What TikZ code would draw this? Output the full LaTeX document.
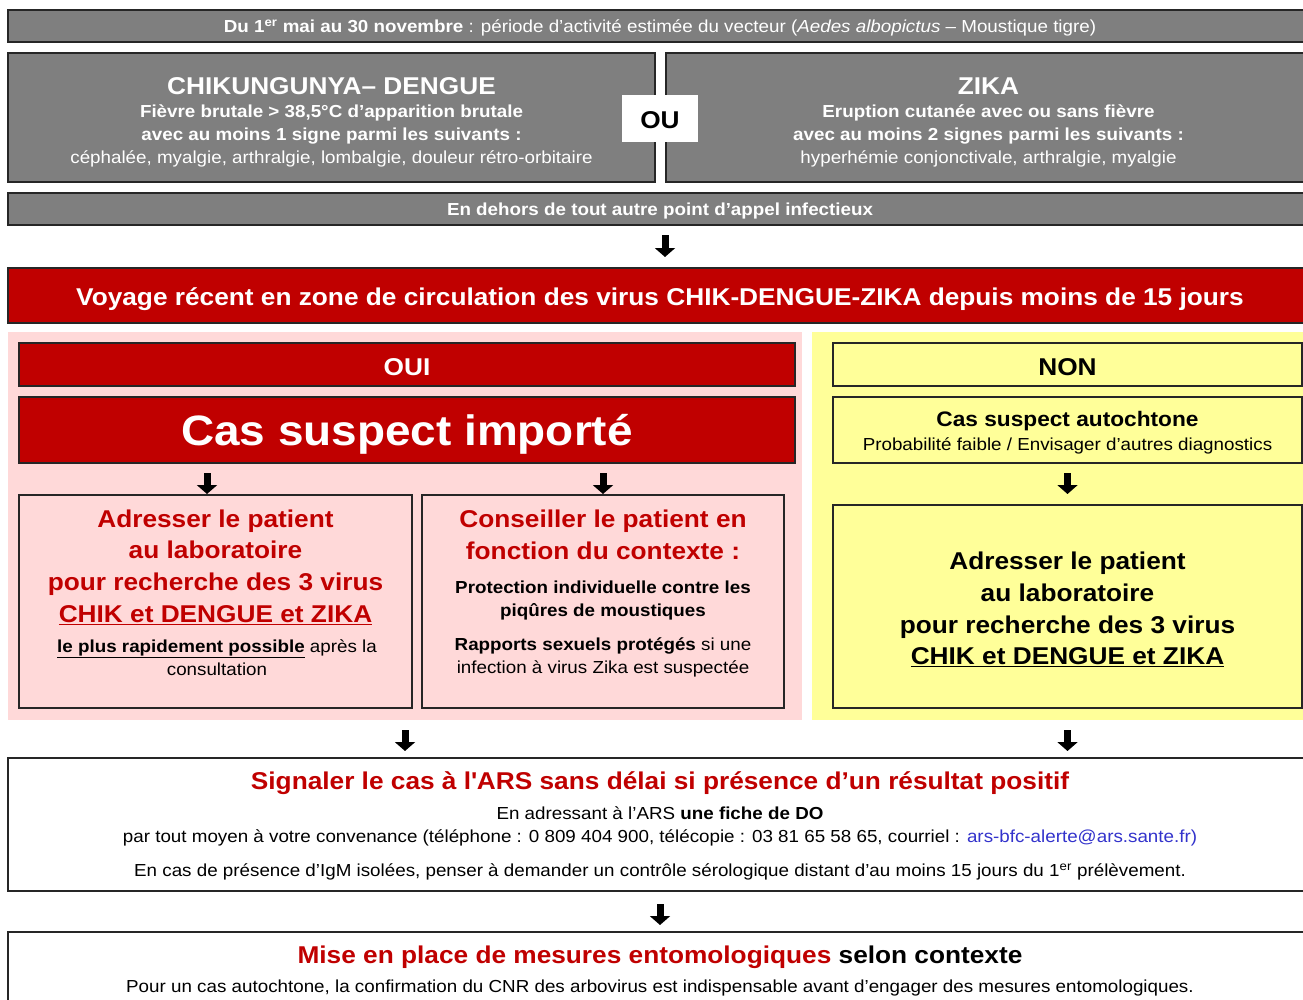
\documentclass[tikz,border=0pt]{standalone}
\usepackage{fontspec}
\setmainfont[FakeStretch=1.08]{Liberation Sans}
\usetikzlibrary{positioning,arrows.meta}

\definecolor{grisfond}{RGB}{127,127,127}
\definecolor{rougefond}{RGB}{192,0,0}
\definecolor{rosefond}{RGB}{255,217,217}
\definecolor{jaunefond}{RGB}{255,255,153}
\definecolor{lien}{RGB}{51,51,204}

\newcommand{\petit}{\fontsize{17.4}{23}\selectfont}
\newcommand{\moyen}{\fontsize{21}{25}\selectfont}
\newcommand{\grand}{\fontsize{24.3}{31.7}\selectfont}
\newcommand{\enorme}{\fontsize{42.5}{48}\selectfont}

\tikzset{
  cadre/.style={draw=black!85, line width=1.2pt, inner sep=0pt, outer sep=0pt},
  boitegrise/.style={cadre, fill=grisfond},
  boiterouge/.style={cadre, fill=rougefond},
  boiterose/.style={cadre, fill=rosefond},
  boitejaune/.style={cadre, fill=jaunefond},
  zone/.style={inner sep=0pt, outer sep=0pt},
  texte/.style={inner sep=0pt, align=center},
  fleche/.style={line width=7pt, -{Triangle[length=9pt,width=20pt]}},
}

\begin{document}
\begin{tikzpicture}[x=1pt,y=-1pt]
\useasboundingbox (0,0) rectangle (1303,999);
\clip (0,0) rectangle (1303,999);

% criteres cliniques
\node[boitegrise, minimum width=1304pt, minimum height=32pt] (periode) at (660,26) {};
\node[texte, text=white, font=\petit] (periodetexte) at (660,28)
  {\textbf{Du 1\textsuperscript{er} mai au 30 novembre} : période d’activité estimée du vecteur (\textit{Aedes albopictus} – Moustique tigre)};

\node[boitegrise, minimum width=647pt, minimum height=129pt] (chik) at (331.5,117.5) {};
\node[texte, text=white, font=\grand\bfseries] (chiktitre) at (331.5,86) {CHIKUNGUNYA– DENGUE};
\node[texte, text=white, font=\petit] (chiksignes) at (331.5,136)
  {\textbf{Fièvre brutale > 38,5°C d’apparition brutale}\\
   \textbf{avec au moins 1 signe parmi les suivants :}\\
   céphalée, myalgie, arthralgie, lombalgie, douleur rétro-orbitaire};

\node[boitegrise, minimum width=646pt, minimum height=129pt] (zika) at (989,117.5) {};
\node[texte, text=white, font=\grand\bfseries] (zikatitre) at (988.5,86) {ZIKA};
\node[texte, text=white, font=\petit] (zikasignes) at (988.5,136)
  {\textbf{Eruption cutanée avec ou sans fièvre}\\
   \textbf{avec au moins 2 signes parmi les suivants :}\\
   hyperhémie conjonctivale, arthralgie, myalgie};

\node[zone, fill=white, minimum width=76pt, minimum height=47pt] (ou) at (660,118.5) {};
\node[texte, font=\grand\bfseries] (outexte) at (660,120.5) {OU};

\node[boitegrise, minimum width=1304pt, minimum height=32pt] (dehors) at (660,209) {};
\node[texte, text=white, font=\petit\bfseries] (dehorstexte) at (660,211)
  {En dehors de tout autre point d’appel infectieux};

\node[boiterouge, minimum width=1304pt, minimum height=55pt] (voyage) at (660,295.5) {};
\node[texte, text=white, font=\grand\bfseries] (voyagetexte) at (660,299)
  {Voyage récent en zone de circulation des virus CHIK-DENGUE-ZIKA depuis moins de 15 jours};

% zones oui / non
\node[zone, fill=rosefond, minimum width=794pt, minimum height=388pt] (rose) at (405,526) {};
\node[zone, fill=jaunefond, minimum width=500pt, minimum height=388pt] (jaune) at (1062,526) {};

\node[boiterouge, minimum width=776pt, minimum height=43pt] (oui) at (407,364.5) {};
\node[texte, text=white, font=\grand\bfseries] (ouitexte) at (407,367.5) {OUI};
\node[boiterouge, minimum width=776pt, minimum height=66pt] (importe) at (407,430) {};
\node[texte, text=white, font=\enorme\bfseries] (importetexte) at (407,434) {Cas suspect importé};

\node[boiterose, minimum width=393pt, minimum height=213pt] (labo) at (215.5,601.5) {};
\node[texte, text=rougefond, font=\grand\bfseries] (laborouge) at (215.5,567)
  {Adresser le patient\\ au laboratoire\\ pour recherche des 3 virus\\ \underline{CHIK et DENGUE et ZIKA}};
\node[texte, font=\petit] (labodelai) at (217,657.5)
  {\textbf{\underline{le plus rapidement possible}} après la\\ consultation};

\node[boiterose, minimum width=362pt, minimum height=213pt] (conseil) at (603,601.5) {};
\node[texte, text=rougefond, font=\grand\bfseries] (conseilrouge) at (603,534.5)
  {Conseiller le patient en\\ fonction du contexte :};
\node[texte, font=\petit\bfseries] (protection) at (603,600.5)
  {Protection individuelle contre les\\ piqûres de moustiques};
\node[texte, font=\petit] (rapports) at (603,657.5)
  {\textbf{Rapports sexuels protégés} si une\\ infection à virus Zika est suspectée};

\node[boitejaune, minimum width=469pt, minimum height=43pt] (non) at (1067.5,364.5) {};
\node[texte, font=\grand\bfseries] (nontexte) at (1067.5,367.5) {NON};
\node[boitejaune, minimum width=469pt, minimum height=66pt] (autochtone) at (1067.5,430) {};
\node[texte, font=\moyen\bfseries] (autotitre) at (1067.5,421) {Cas suspect autochtone};
\node[texte, font=\petit] (autodiag) at (1067.5,446) {Probabilité faible / Envisager d’autres diagnostics};

\node[boitejaune, minimum width=469pt, minimum height=203pt] (labonon) at (1067.5,606.5) {};
\node[texte, font=\grand\bfseries] (labonontexte) at (1067.5,609.5)
  {Adresser le patient\\ au laboratoire\\ pour recherche des 3 virus\\ \underline{CHIK et DENGUE et ZIKA}};

% signalement
\node[cadre, fill=white, minimum width=1304pt, minimum height=133pt] (signal) at (660,824.5) {};
\node[texte, text=rougefond, font=\grand\bfseries] (signaltitre) at (660,783)
  {Signaler le cas à l\textquotesingle ARS sans délai si présence d’un résultat positif};
\node[texte, font=\petit] (ficheDO) at (660,826.5)
  {En adressant à l’ARS \textbf{une fiche de DO}\\
   par tout moyen à votre convenance (téléphone : 0 809 404 900, télécopie : 03 81 65 58 65, courriel : \textcolor{lien}{ars-bfc-alerte@ars.sante.fr)}};
\node[texte, font=\petit] (igm) at (660,872)
  {En cas de présence d’IgM isolées, penser à demander un contrôle sérologique distant d’au moins 15 jours du 1\textsuperscript{er} prélèvement.};

\node[cadre, fill=white, minimum width=1304pt, minimum height=78pt] (mise) at (660,971) {};
\node[texte, font=\grand\bfseries] (misetitre) at (660,957)
  {\textcolor{rougefond}{Mise en place de mesures entomologiques} selon contexte};
\node[texte, font=\petit] (cnr) at (660,988)
  {Pour un cas autochtone, la confirmation du CNR des arbovirus est indispensable avant d’engager des mesures entomologiques.};

% fleches
\coordinate (versVoyage) at ([xshift=5pt]voyage.north);
\coordinate (versLabo) at ([xshift=-8.5pt]labo.north);
\draw[fleche, shorten <=10pt, shorten >=11pt] (dehors.south -| versVoyage) -- (versVoyage);
\draw[fleche, shorten <=10pt, shorten >=1pt] (importe.south -| versLabo) -- (versLabo);
\draw[fleche, shorten <=10pt, shorten >=1pt] (importe.south -| conseil.north) -- (conseil.north);
\draw[fleche, shorten <=10pt, shorten >=11pt] (autochtone.south) -- (labonon.north);
\draw[fleche, shorten <=10pt, shorten >=7pt] (rose.south) -- (rose.south |- signal.north);
\draw[fleche, shorten <=10pt, shorten >=7pt] (jaune.south -| labonon.south) -- (signal.north -| labonon.south);
\draw[fleche, shorten <=13pt, shorten >=7pt] (signal.south) -- (mise.north);
\end{tikzpicture}
\end{document}
